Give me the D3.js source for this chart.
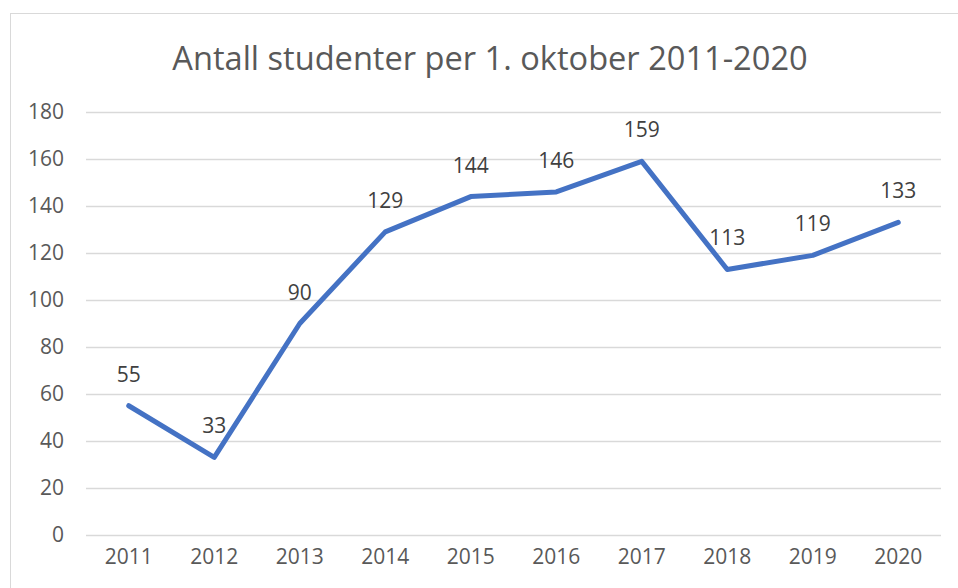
<!DOCTYPE html>
<html><head><meta charset="utf-8">
<script src="https://cdn.jsdelivr.net/npm/d3@7"></script>
<style>body{margin:0;background:#fff}svg{display:block}</style>
</head><body>
<svg id="c" width="958" height="588"></svg>
<script>
const titleText = "Antall studenter per 1. oktober 2011-2020";
const years = ["2011","2012","2013","2014","2015","2016","2017","2018","2019","2020"];
const students = [55,33,90,129,144,146,159,113,119,133];
const yTicks = [0,20,40,60,80,100,120,140,160,180];

(function(){
const svg = d3.select("#c");
const font = "'Open Sans', sans-serif";
const textColor = "#595959";

svg.append("rect").attr("x",10.5).attr("y",13.5).attr("width",1000).attr("height",1000)
  .attr("fill","#fff").attr("stroke","#d9d9d9").attr("stroke-width",1);

const pLeft = 86, pRight = 941, pTop = 112, pBottom = 535;
const x = d3.scaleBand().domain(years).range([pLeft,pRight]);
const y = d3.scaleLinear().domain([0,180]).range([pBottom,pTop]);

svg.append("text").attr("x",490).attr("y",70).attr("text-anchor","middle")
  .attr("font-family",font).attr("font-size",32.6).attr("fill",textColor).text(titleText);

const yAxis = d3.axisLeft(y).tickValues(yTicks).tickSize(-(pRight-pLeft)).tickPadding(22);
const gy = svg.append("g").attr("transform",`translate(${pLeft},0)`).call(yAxis);
gy.select(".domain").remove();
gy.selectAll(".tick line").attr("stroke","#d9d9d9").attr("stroke-width",1.5);
gy.selectAll(".tick text").attr("font-family",font).attr("font-size",21).attr("fill",textColor);

const xAxis = d3.axisBottom(x).tickSize(0).tickPadding(14);
const gx = svg.append("g").attr("transform",`translate(0,${pBottom})`).call(xAxis);
gx.select(".domain").remove();
gx.selectAll(".tick text").attr("font-family",font).attr("font-size",21).attr("fill",textColor);

const cx = d => x(d) + x.bandwidth()/2;
const line = d3.line().x((d,i)=>cx(years[i])).y(d=>y(d));
svg.append("path").datum(students).attr("d",line).attr("fill","none")
  .attr("stroke","#4472C4").attr("stroke-width",5).attr("stroke-linejoin","round").attr("stroke-linecap","round");

svg.append("g").selectAll("text").data(students).join("text")
  .attr("x",(d,i)=>cx(years[i])).attr("y",d=>y(d)-24)
  .attr("text-anchor","middle").attr("font-family",font).attr("font-size",21).attr("fill","#404040")
  .text(d=>d);
})();
</script>
</body></html>
